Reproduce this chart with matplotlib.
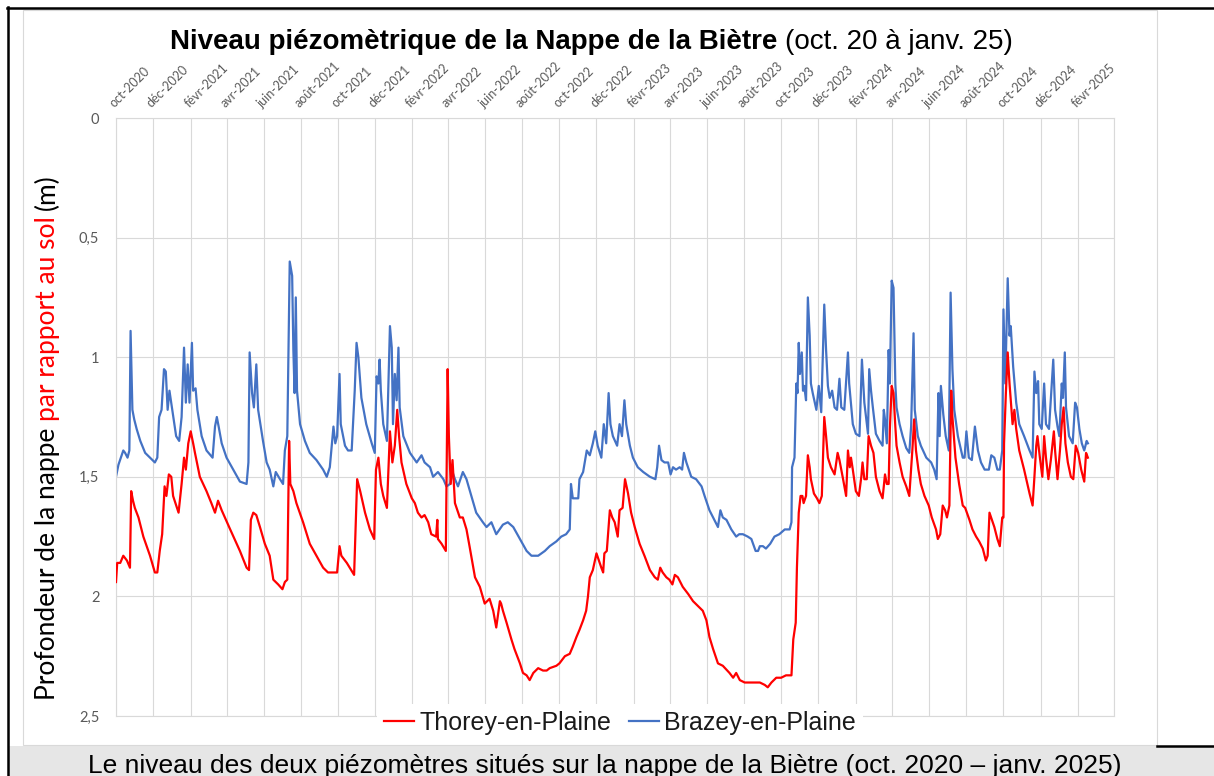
"""Niveau piézomètrique de la nappe de la Biètre (oct. 2020 - janv. 2025)."""

import matplotlib
matplotlib.use('Agg')
import matplotlib.pyplot as plt
import pandas as pd
from matplotlib.lines import Line2D
from matplotlib.patches import Rectangle

# Days since 2020-10-01 and depth below ground (m).
START = pd.Timestamp('2020-10-01')

thorey_days = [
    0, 2, 7, 12, 18, 23, 25, 28, 31, 37, 45, 56, 64, 68, 72, 76, 80, 83, 87, 91,
    94, 103, 108, 112, 115, 119, 123, 127, 130, 138, 149, 157, 163, 168, 174,
    188, 204, 215, 219, 222, 226, 231, 237, 245, 253, 259, 267, 274, 278, 282,
    285, 287, 292, 297, 308, 319, 330, 341, 349, 360, 364, 368, 371, 380, 392,
    397, 402, 410, 418, 425, 428, 432, 436, 440, 446, 451, 455, 459, 463, 466,
    470, 478, 487, 492, 497, 503, 508, 514, 519, 527, 529, 530, 536, 543, 546,
    548, 551, 554, 558, 566, 571, 577, 582, 591, 599, 607, 615, 621, 626, 632,
    634, 637, 643, 651, 656, 665, 670, 676, 681, 687, 695, 703, 709, 714, 725,
    730, 739, 747, 752, 758, 763, 769, 774, 777, 780, 785, 791, 795, 799, 802,
    804, 808, 813, 817, 821, 826, 829, 834, 838, 843, 848, 854, 862, 870, 879,
    887, 892, 896, 900, 906, 911, 916, 920, 925, 933, 942, 950, 958, 966, 972,
    977, 983, 991, 999, 1010, 1016, 1021, 1027, 1035, 1043, 1051, 1060, 1068,
    1073, 1079, 1087, 1095, 1103, 1112, 1113, 1115, 1119, 1121, 1124, 1127,
    1130, 1132, 1136, 1139, 1142, 1144, 1149, 1154, 1158, 1162, 1166, 1169,
    1172, 1177, 1183, 1188, 1191, 1197, 1202, 1205, 1208, 1210, 1213, 1218,
    1223, 1227, 1229, 1232, 1236, 1239, 1243, 1247, 1251, 1257, 1262, 1266,
    1269, 1272, 1274, 1277, 1280, 1283, 1285, 1290, 1295, 1301, 1306, 1311,
    1314, 1317, 1321, 1325, 1331, 1338, 1343, 1350, 1353, 1357, 1361, 1365,
    1368, 1372, 1375, 1377, 1382, 1388, 1394, 1398, 1405, 1410, 1416, 1421,
    1427, 1432, 1435, 1438, 1442, 1446, 1451, 1455, 1459, 1461, 1462, 1465,
    1468, 1471, 1473, 1476, 1479, 1482, 1487, 1495, 1504, 1509, 1512, 1515,
    1517, 1521, 1525, 1528, 1531, 1535, 1539, 1544, 1546, 1550, 1554, 1557,
    1560, 1563, 1567, 1572, 1576, 1580, 1584, 1589, 1594, 1597, 1600,
]
thorey_depth = [
    1.94, 1.86, 1.86, 1.83, 1.85, 1.88, 1.56, 1.60, 1.63, 1.67, 1.75, 1.83,
    1.90, 1.90, 1.81, 1.74, 1.54, 1.58, 1.49, 1.50, 1.58, 1.65, 1.53, 1.42,
    1.47, 1.36, 1.31, 1.36, 1.40, 1.50, 1.56, 1.61, 1.65, 1.60, 1.64, 1.72,
    1.81, 1.88, 1.89, 1.68, 1.65, 1.66, 1.71, 1.78, 1.83, 1.93, 1.95, 1.97,
    1.94, 1.93, 1.35, 1.53, 1.56, 1.61, 1.69, 1.78, 1.83, 1.88, 1.90, 1.90,
    1.90, 1.79, 1.83, 1.86, 1.91, 1.51, 1.56, 1.65, 1.72, 1.76, 1.47, 1.42,
    1.53, 1.58, 1.63, 1.31, 1.44, 1.37, 1.22, 1.33, 1.44, 1.53, 1.59, 1.61,
    1.65, 1.67, 1.66, 1.69, 1.74, 1.75, 1.68, 1.76, 1.78, 1.81, 1.05, 1.33,
    1.53, 1.43, 1.61, 1.67, 1.67, 1.72, 1.79, 1.92, 1.96, 2.03, 2.01, 2.06,
    2.13, 2.02, 2.03, 2.06, 2.11, 2.18, 2.22, 2.28, 2.32, 2.33, 2.35, 2.32,
    2.30, 2.31, 2.31, 2.30, 2.29, 2.28, 2.25, 2.24, 2.21, 2.17, 2.14, 2.10,
    2.06, 2.00, 1.92, 1.89, 1.82, 1.85, 1.88, 1.90, 1.82, 1.81, 1.64, 1.67,
    1.69, 1.75, 1.64, 1.63, 1.51, 1.57, 1.65, 1.71, 1.78, 1.83, 1.89, 1.92,
    1.93, 1.88, 1.90, 1.92, 1.93, 1.95, 1.91, 1.92, 1.96, 1.99, 2.02, 2.04,
    2.06, 2.10, 2.17, 2.22, 2.28, 2.29, 2.32, 2.34, 2.32, 2.35, 2.36, 2.36,
    2.36, 2.36, 2.37, 2.38, 2.36, 2.34, 2.34, 2.33, 2.33, 2.28, 2.18, 2.11,
    1.88, 1.65, 1.58, 1.58, 1.61, 1.58, 1.41, 1.46, 1.51, 1.57, 1.59, 1.61,
    1.58, 1.25, 1.33, 1.42, 1.46, 1.49, 1.40, 1.43, 1.51, 1.58, 1.39, 1.46,
    1.42, 1.47, 1.56, 1.58, 1.50, 1.44, 1.51, 1.51, 1.33, 1.37, 1.40, 1.50,
    1.56, 1.59, 1.49, 1.53, 1.53, 1.30, 1.12, 1.15, 1.29, 1.37, 1.44, 1.50,
    1.54, 1.58, 1.39, 1.26, 1.39, 1.47, 1.53, 1.58, 1.62, 1.67, 1.72, 1.76,
    1.74, 1.62, 1.64, 1.67, 1.62, 1.14, 1.25, 1.42, 1.53, 1.62, 1.63, 1.68,
    1.72, 1.75, 1.77, 1.80, 1.85, 1.83, 1.65, 1.68, 1.71, 1.76, 1.79, 1.67,
    1.67, 1.36, 1.15, 0.98, 1.11, 1.18, 1.28, 1.22, 1.30, 1.39, 1.47, 1.57,
    1.62, 1.50, 1.37, 1.33, 1.42, 1.50, 1.33, 1.42, 1.51, 1.43, 1.31, 1.39,
    1.51, 1.39, 1.28, 1.21, 1.36, 1.44, 1.50, 1.51, 1.37, 1.40, 1.47, 1.52,
    1.40, 1.42,
]

brazey_days = [
    0, 4, 8, 12, 15, 19, 22, 24, 27, 30, 34, 40, 48, 56, 64, 68, 71, 75, 79,
    82, 85, 88, 92, 99, 104, 108, 112, 115, 118, 121, 125, 127, 131, 134, 141,
    149, 159, 163, 166, 169, 174, 182, 193, 204, 215, 218, 220, 224, 227, 231,
    234, 242, 248, 253, 259, 263, 270, 275, 278, 282, 286, 290, 292, 294, 296,
    298, 303, 311, 319, 330, 341, 347, 352, 358, 361, 364, 368, 370, 377, 382,
    388, 393, 396, 399, 404, 412, 421, 426, 429, 432, 434, 436, 440, 446, 451,
    454, 456, 459, 462, 465, 467, 473, 484, 495, 503, 508, 517, 522, 530, 539,
    544, 550, 554, 558, 563, 571, 577, 585, 593, 604, 610, 618, 626, 637, 645,
    654, 665, 676, 684, 695, 706, 714, 725, 733, 741, 747, 749, 752, 761, 763,
    769, 775, 780, 785, 789, 793, 799, 803, 807, 811, 814, 818, 825, 829, 833,
    837, 840, 846, 851, 859, 868, 879, 888, 891, 894, 898, 903, 909, 913, 917,
    922, 928, 932, 935, 939, 947, 955, 964, 969, 977, 985, 991, 995, 999, 1005,
    1013, 1021, 1026, 1032, 1040, 1046, 1053, 1057, 1060, 1065, 1070, 1077,
    1084, 1092, 1101, 1109, 1112, 1113, 1117, 1120, 1122, 1124, 1126, 1129,
    1131, 1133, 1136, 1139, 1142, 1144, 1147, 1153, 1157, 1161, 1166, 1169,
    1172, 1175, 1179, 1183, 1187, 1191, 1194, 1199, 1205, 1207, 1213, 1218,
    1224, 1228, 1232, 1238, 1240, 1243, 1246, 1251, 1257, 1262, 1264, 1266,
    1269, 1272, 1274, 1277, 1280, 1283, 1285, 1290, 1295, 1301, 1306, 1309,
    1313, 1315, 1320, 1325, 1334, 1342, 1347, 1351, 1354, 1356, 1358, 1362,
    1366, 1371, 1374, 1377, 1380, 1386, 1394, 1397, 1400, 1404, 1409, 1414,
    1419, 1424, 1430, 1437, 1441, 1446, 1451, 1455, 1459, 1461, 1464, 1468,
    1471, 1473, 1477, 1482, 1487, 1495, 1504, 1509, 1512, 1515, 1518, 1520,
    1524, 1528, 1531, 1536, 1543, 1546, 1550, 1553, 1557, 1559, 1562, 1564,
    1569, 1575, 1579, 1582, 1586, 1590, 1594, 1598, 1600,
]
brazey_depth = [
    1.50, 1.45, 1.42, 1.39, 1.40, 1.42, 1.39, 0.89, 1.22, 1.26, 1.30, 1.35,
    1.40, 1.42, 1.44, 1.42, 1.25, 1.22, 1.05, 1.06, 1.22, 1.14, 1.21, 1.33,
    1.35, 1.25, 0.96, 1.19, 1.03, 1.19, 0.94, 1.14, 1.13, 1.22, 1.33, 1.39,
    1.42, 1.29, 1.25, 1.29, 1.36, 1.42, 1.47, 1.52, 1.53, 1.44, 0.98, 1.15,
    1.21, 1.03, 1.22, 1.35, 1.44, 1.47, 1.54, 1.48, 1.51, 1.53, 1.39, 1.33,
    0.60, 0.66, 0.97, 1.15, 0.75, 1.14, 1.28, 1.35, 1.40, 1.43, 1.47, 1.50,
    1.46, 1.29, 1.36, 1.33, 1.07, 1.28, 1.37, 1.39, 1.39, 1.14, 0.94, 1.00,
    1.17, 1.28, 1.36, 1.40, 1.08, 1.11, 1.01, 1.14, 1.28, 1.35, 0.87, 0.96,
    1.28, 1.07, 1.18, 0.96, 1.21, 1.33, 1.40, 1.44, 1.41, 1.44, 1.46, 1.50,
    1.48, 1.51, 1.54, 1.53, 1.48, 1.51, 1.54, 1.48, 1.51, 1.58, 1.65, 1.69,
    1.71, 1.69, 1.74, 1.70, 1.69, 1.71, 1.76, 1.81, 1.83, 1.83, 1.81, 1.79,
    1.77, 1.75, 1.74, 1.72, 1.53, 1.59, 1.59, 1.51, 1.48, 1.39, 1.41, 1.36,
    1.31, 1.37, 1.42, 1.28, 1.36, 1.15, 1.28, 1.33, 1.37, 1.28, 1.33, 1.18,
    1.28, 1.37, 1.42, 1.46, 1.48, 1.50, 1.51, 1.46, 1.37, 1.43, 1.44, 1.44,
    1.49, 1.46, 1.47, 1.46, 1.47, 1.40, 1.44, 1.50, 1.51, 1.54, 1.58, 1.64,
    1.68, 1.71, 1.64, 1.67, 1.68, 1.72, 1.75, 1.74, 1.74, 1.75, 1.76, 1.81,
    1.81, 1.79, 1.79, 1.80, 1.78, 1.75, 1.74, 1.72, 1.72, 1.69, 1.46, 1.42,
    1.11, 1.15, 0.94, 1.07, 0.98, 1.14, 1.12, 1.18, 0.75, 0.91, 1.11, 1.15,
    1.22, 1.12, 1.23, 0.78, 0.97, 1.12, 1.17, 1.14, 1.21, 1.22, 1.09, 1.21,
    1.22, 0.98, 1.11, 1.28, 1.32, 1.33, 1.01, 1.19, 1.32, 1.05, 1.14, 1.21,
    1.32, 1.35, 1.37, 1.22, 1.26, 1.36, 0.97, 1.11, 0.68, 0.71, 1.11, 1.21,
    1.28, 1.33, 1.38, 1.40, 1.29, 0.90, 1.22, 1.33, 1.37, 1.42, 1.44, 1.47,
    1.51, 1.15, 1.33, 1.12, 1.24, 1.33, 1.39, 0.73, 1.05, 1.22, 1.33, 1.42,
    1.42, 1.31, 1.42, 1.43, 1.29, 1.39, 1.44, 1.47, 1.47, 1.41, 1.42, 1.47,
    1.47, 1.39, 0.80, 1.11, 0.67, 0.91, 0.87, 1.04, 1.19, 1.28, 1.33, 1.39,
    1.42, 1.06, 1.15, 1.10, 1.28, 1.30, 1.11, 1.28, 1.30, 1.01, 1.22, 1.29,
    1.33, 1.11, 1.17, 0.98, 1.21, 1.33, 1.36, 1.19, 1.21, 1.30, 1.36, 1.39,
    1.35, 1.36,
]

series_names = ['Thorey-en-Plaine', 'Brazey-en-Plaine']
series_colors = ['#ff0000', '#4472c4']
mois = ['janv', 'févr', 'mars', 'avr', 'mai', 'juin',
        'juil', 'août', 'sept', 'oct', 'nov', 'déc']
depth_ticks = [0, 0.5, 1, 1.5, 2, 2.5]
depth_labels = ['0', '0,5', '1', '1,5', '2', '2,5']

title_bold = 'Niveau piézomètrique de la Nappe de la Biètre'
title_rest = '(oct. 20 à janv. 25)'
caption = ('Le niveau des deux piézomètres situés sur la nappe de la Biètre '
           '(oct. 2020 – janv. 2025)')

W, H = 1214, 776
SANS = 'Liberation Sans'
EXCEL = 'Lato'
GREY = '#595959'


def fx(px):
    return px / W


def fy(py):
    return 1 - py / H


fig = plt.figure(figsize=(W / 100, H / 100), dpi=100)


def draw_pieces(pieces, x, y, size, family, vertical=False):
    """Write text pieces one after another, centred on pixel (x, y)."""
    renderer = fig.canvas.get_renderer()

    def measure(s, weight):
        t = fig.text(0, 0, s, fontsize=size, family=family, fontweight=weight)
        w = t.get_window_extent(renderer).width
        t.remove()
        return w

    widths = []
    for text, color, weight, space in pieces:
        gap = measure('x x', weight) - measure('xx', weight) if space else 0
        widths.append((gap, measure(text, weight)))
    pos = -sum(g + w for g, w in widths) / 2
    for (text, color, weight, space), (gap, w) in zip(pieces, widths):
        pos += gap
        px, py = (x, y - pos) if vertical else (x + pos, y)
        fig.text(fx(px), fy(py), text, fontsize=size, family=family,
                 fontweight=weight, color=color, ha='left', va='baseline',
                 rotation=90 if vertical else 0, rotation_mode='anchor')
        pos += w


# Frame of the picture: black rules, grey caption band, chart area.
fig.add_artist(Rectangle((fx(9), 0), 1 - fx(9), fy(746), transform=fig.transFigure,
                         facecolor='#e6e6e6', edgecolor='none', zorder=-2))
fig.add_artist(Rectangle((fx(23), fy(745)), fx(1157) - fx(23), fy(10) - fy(745),
                         transform=fig.transFigure, facecolor='white',
                         edgecolor='#d9d9d9', lw=0.8, zorder=-1))
for xs, ys in [([fx(7), 1], [fy(7.5), fy(7.5)]),
               ([fx(8), fx(8)], [fy(7), 0]),
               ([fx(1157), 1], [fy(746), fy(746)])]:
    fig.add_artist(Line2D(xs, ys, color='black', lw=1.8, zorder=5))

ax = fig.add_axes([fx(116), fy(716), fx(1114) - fx(116), fy(118) - fy(716)])

thorey_dates = START + pd.to_timedelta(thorey_days, unit='D')
brazey_dates = START + pd.to_timedelta(brazey_days, unit='D')
l_thorey, = ax.plot(thorey_dates, thorey_depth, color=series_colors[0], lw=1.6, zorder=3)
l_brazey, = ax.plot(brazey_dates, brazey_depth, color=series_colors[1], lw=1.6, zorder=2)

ticks = pd.date_range(START, '2025-04-01', freq='2MS')
tick_labels = [f'{mois[t.month - 1]}-{t.year}' for t in ticks[:-1]] + ['']
ax.set_xlim(ticks[0], ticks[-1])
ax.set_xticks(ticks)
ax.set_xticklabels(tick_labels, rotation=45, ha='left', va='bottom',
                   rotation_mode='anchor', fontsize=9, color=GREY, family=EXCEL)
ax.xaxis.tick_top()
ax.tick_params(axis='x', length=0, pad=6)

ax.set_ylim(2.5, 0)
ax.set_yticks(depth_ticks)
ax.set_yticklabels(depth_labels, fontsize=10.5, color=GREY, family=EXCEL)
ax.tick_params(axis='y', length=0, pad=12)

ax.grid(True, color='#d9d9d9', lw=0.8)
ax.set_axisbelow(True)
for spine in ax.spines.values():
    spine.set_color('#d9d9d9')
    spine.set_linewidth(0.8)

leg = ax.legend([l_thorey, l_brazey], series_names, loc='center',
                bbox_to_anchor=(0.505, -0.012), ncol=2, frameon=True,
                fancybox=False, framealpha=1, facecolor='white', edgecolor='none',
                prop={'family': SANS, 'size': 18}, handlelength=1.2,
                handletextpad=0.2, columnspacing=0.7, borderpad=0.3)
for t in leg.get_texts():
    t.set_color('#1a1a1a')

draw_pieces([(title_bold, 'black', 'bold', False),
             (title_rest, 'black', 'normal', True)], 591, 49, 20, SANS)
draw_pieces([('Profondeur de la nappe', 'black', 'normal', False),
             ('par rapport au sol', '#ff0000', 'normal', True),
             ('(m)', 'black', 'normal', True)], 55, 437, 19, EXCEL, vertical=True)

fig.text(fx(605), fy(773), caption, ha='center', va='baseline',
         fontsize=19, family=SANS, color='black')

fig.savefig('out.png', dpi=100)
